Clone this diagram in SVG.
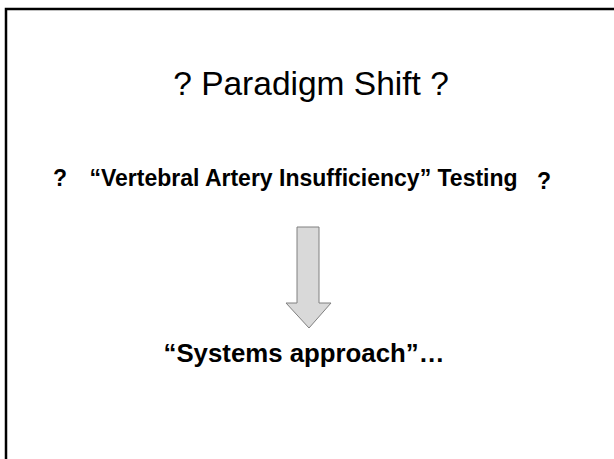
<svg xmlns="http://www.w3.org/2000/svg" width="614" height="459" viewBox="0 0 614 459">
<style>
.t{font-family:"Liberation Sans",Arial,sans-serif;fill:#000}
.b{font-weight:bold}
</style>
<rect width="614" height="459" fill="#fff"/>
<g id="frame"><rect x="6" y="9" width="640" height="480" fill="none" stroke="#000" stroke-width="2.5"/></g>
<g id="title"><text class="t" x="311" y="95" font-size="33.5" text-anchor="middle">? Paradigm Shift ?</text></g>
<g id="via">
<text class="t b" x="53" y="186" font-size="23">?</text>
<text class="t b" x="303.5" y="186" font-size="23" text-anchor="middle">“Vertebral Artery Insufficiency” Testing</text>
<text class="t b" x="537" y="189" font-size="23">?</text>
</g>
<g id="connectors"><polygon points="297,227 319,227 319,303 331,303 309,328 286,303 297,303" fill="#d9d9d9" stroke="#808080" stroke-width="1"/></g>
<g id="systems"><text class="t b" x="304" y="362" font-size="25.8" text-anchor="middle">“Systems approach”…</text></g>
</svg>
